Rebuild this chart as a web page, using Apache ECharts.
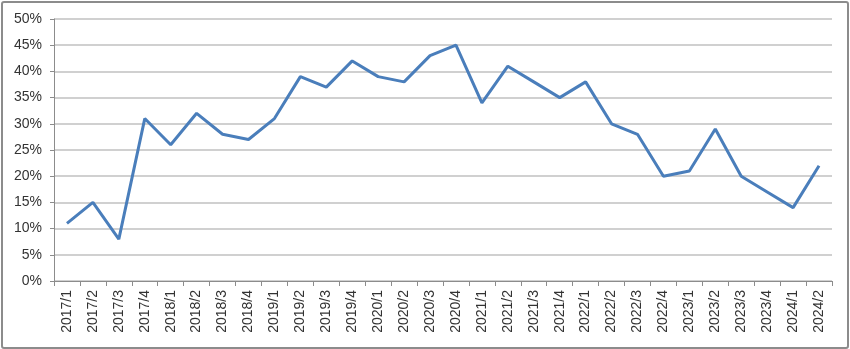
<!DOCTYPE html>
<html>
<head>
<meta charset="utf-8">
<script src="https://cdn.jsdelivr.net/npm/echarts@6/dist/echarts.min.js"></script>
<style>
  html, body { margin: 0; padding: 0; background: #fff; }
  #box { position: absolute; left: 1px; top: 1px; width: 844px; height: 344px;
         border: 2px solid #8c8c8c; border-radius: 3px; box-sizing: content-box; }
  #chart { width: 844px; height: 344px; }
</style>
</head>
<body>
<div id="box"><div id="chart"></div></div>
<script>
// 季度
var quarters = ['2017/1', '2017/2', '2017/3', '2017/4', '2018/1', '2018/2', '2018/3', '2018/4',
    '2019/1', '2019/2', '2019/3', '2019/4', '2020/1', '2020/2', '2020/3', '2020/4',
    '2021/1', '2021/2', '2021/3', '2021/4', '2022/1', '2022/2', '2022/3', '2022/4',
    '2023/1', '2023/2', '2023/3', '2023/4', '2024/1', '2024/2'];

// 百分比
var rates = [11, 15, 8, 31, 26, 32, 28, 27, 31, 39, 37, 42, 39, 38, 43, 45,
    34, 41, 38, 35, 38, 30, 28, 20, 21, 29, 20, 17, 14, 22];

var yMin = 0, yMax = 50, yStep = 5;

var myChart = echarts.init(document.getElementById('chart'));
var font = 'Liberation Sans, Arial, sans-serif';

myChart.setOption({
    animation: false,
    grid: {
        left: 51,
        right: 15,
        top: 16,
        bottom: 66
    },
    xAxis: {
        type: 'category',
        data: quarters,
        boundaryGap: true,
        axisLine: { lineStyle: { color: '#8c8c8c', width: 1 } },
        axisTick: { show: true, alignWithLabel: false, length: 5, lineStyle: { color: '#8c8c8c' } },
        axisLabel: {
            rotate: 90,
            interval: 0,
            margin: 9,
            color: '#333333',
            fontSize: 14,
            fontFamily: font
        },
        splitLine: { show: false }
    },
    yAxis: {
        type: 'value',
        min: yMin,
        max: yMax,
        interval: yStep,
        axisLine: { show: true, lineStyle: { color: '#8c8c8c', width: 1 } },
        axisTick: { show: true, length: 4, lineStyle: { color: '#8c8c8c' } },
        axisLabel: {
            formatter: '{value}%',
            margin: 12,
            color: '#333333',
            fontSize: 14,
            fontFamily: font
        },
        splitLine: { lineStyle: { color: '#c0c0c0', width: 1.5 } }
    },
    series: [
        {
            name: 'rate',
            type: 'line',
            data: rates,
            symbol: 'none',
            lineStyle: { color: '#4a7ebb', width: 3 }
        }
    ]
});
</script>
</body>
</html>
